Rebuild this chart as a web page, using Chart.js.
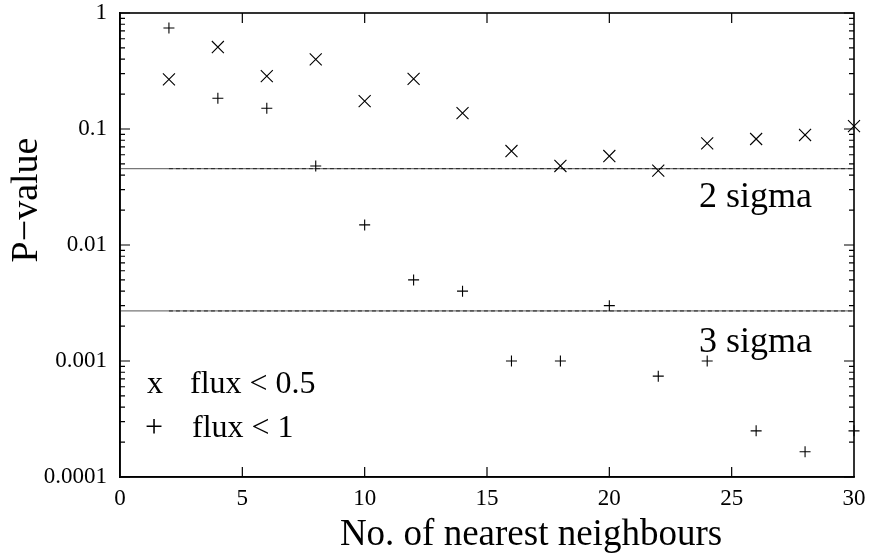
<!DOCTYPE html>
<html>
<head>
<meta charset="utf-8">
<script src="https://cdn.jsdelivr.net/npm/chart.js@4/dist/chart.umd.min.js"></script>
<style>
  html, body { margin: 0; padding: 0; background: #fff; }
  #wrap { width: 871px; height: 554px; }
</style>
</head>
<body>
<div id="wrap"><canvas id="pval"></canvas></div>
<script>
// neighbours counted
const neighbours = [2, 4, 6, 8, 10, 12, 14, 16, 18, 20, 22, 24, 26, 28, 30]
// P-values, flux < 0.5 (x markers)
const pFlux05 = [0.268, 0.509, 0.286, 0.399, 0.174, 0.27, 0.137, 0.0646, 0.048, 0.0585, 0.0437, 0.0753, 0.082, 0.0888, 0.106]
// P-values, flux < 1 (+ markers)
const pFlux1 = [0.743, 0.184, 0.151, 0.048, 0.0149, 0.005, 0.004, 0.001, 0.001, 0.003, 0.00074, 0.001, 0.00025, 0.000165, 0.00025]
// sigma levels
const sigmaNames = ['2 sigma', '3 sigma']
const sigmaLevels = [0.0455, 0.0027]
const yTicks = [0.0001, 0.001, 0.01, 0.1, 1]
const yTickLabels = ['0.0001', '0.001', '0.01', '0.1', '1']
const xTicks = [0, 5, 10, 15, 20, 25, 30]
const xTitle = 'No. of nearest neighbours'
const yTitle = 'P\u2212value'

const serif = '"Liberation Serif", "DejaVu Serif", serif'

const toPts = (ys) => neighbours.map((n, i) => ({ x: n, y: ys[i] }))

const sigmaSets = []
sigmaLevels.forEach(lv => {
  sigmaSets.push({
    type: 'line', data: [{ x: 0, y: lv }, { x: 30, y: lv }],
    borderColor: '#777', borderWidth: 1.2, pointRadius: 0, order: 5
  })
  sigmaSets.push({
    type: 'line', data: [{ x: 2, y: lv }, { x: 30, y: lv }],
    borderColor: '#222', borderWidth: 1, borderDash: [4, 3], pointRadius: 0, order: 4
  })
})

// inward ticks, frame, titles and text labels
const decor = {
  id: 'decor',
  afterDraw(chart) {
    const ctx = chart.ctx
    const ca = chart.chartArea
    const xs = chart.scales.x, ys = chart.scales.y
    ctx.save()
    ctx.strokeStyle = '#000'
    ctx.lineWidth = 1.2
    ctx.beginPath()
    xTicks.forEach(t => {
      const px = xs.getPixelForValue(t)
      if (t === 0 || t === 30) return
      ctx.moveTo(px, ca.bottom); ctx.lineTo(px, ca.bottom - 10)
      ctx.moveTo(px, ca.top); ctx.lineTo(px, ca.top + 10)
    })
    for (let d = 0.0001; d < 1.5; d *= 10) {
      for (let m = 1; m <= 9; m++) {
        const v = d * m
        if (v > 1.0001) break
        const py = ys.getPixelForValue(v)
        const len = m === 1 ? 10 : 5
        ctx.moveTo(ca.left, py); ctx.lineTo(ca.left + len, py)
        ctx.moveTo(ca.right, py); ctx.lineTo(ca.right - len, py)
      }
    }
    ctx.stroke()
    ctx.lineWidth = 1.6
    ctx.strokeRect(ca.left, ca.top, ca.right - ca.left, ca.bottom - ca.top)

    ctx.fillStyle = '#000'
    ctx.textBaseline = 'alphabetic'
    ctx.font = '36px ' + serif
    ctx.textAlign = 'right'
    ctx.fillText(sigmaNames[0], 812, 207)
    ctx.fillText(sigmaNames[1], 812, 352)

    ctx.font = '32px ' + serif
    ctx.textAlign = 'left'
    ctx.fillText('x', 147, 393)
    ctx.fillText('flux < 0.5', 190, 393)
    ctx.fillText('+', 145, 437)
    ctx.fillText('flux < 1', 192, 437)

    // axis titles
    ctx.font = '37px ' + serif
    ctx.textAlign = 'center'
    ctx.fillText(xTitle, 531, 545)
    ctx.translate(37, 200)
    ctx.rotate(-Math.PI / 2)
    ctx.font = '38px ' + serif
    ctx.fillText(yTitle, 0, 0)
    ctx.restore()
  }
}

const chart = new Chart(document.getElementById('pval'), {
  type: 'scatter',
  data: {
    datasets: [
      {
        label: 'flux < 0.5', data: toPts(pFlux05),
        pointStyle: 'crossRot', pointRadius: 8.5, borderColor: '#000', borderWidth: 1.1,
        backgroundColor: '#000', clip: false, order: 1
      },
      {
        label: 'flux < 1', data: toPts(pFlux1),
        pointStyle: 'cross', pointRadius: 5.5, borderColor: '#000', borderWidth: 1.1,
        backgroundColor: '#000', clip: false, order: 2
      },
      ...sigmaSets
    ]
  },
  options: {
    responsive: true,
    maintainAspectRatio: false,
    animation: false,
    layout: { padding: { left: 0, top: 0, right: 17, bottom: 0 } },
    plugins: { legend: { display: false }, tooltip: { enabled: false } },
    scales: {
      x: {
        type: 'linear', min: 0, max: 30,
        afterBuildTicks: s => { s.ticks = xTicks.map(v => ({ value: v })) },
        afterFit: s => { s.height = 77; s.paddingLeft = 0; s.paddingRight = 0 },
        grid: { display: false, drawTicks: false },
        border: { display: true, color: '#000', width: 1.6 },
        ticks: { color: '#000', padding: 8, maxRotation: 0, font: { family: serif, size: 23 } },
        title: { display: false }
      },
      y: {
        type: 'logarithmic', min: 0.0001, max: 1,
        afterBuildTicks: s => { s.ticks = yTicks.map(v => ({ value: v })) },
        afterFit: s => { s.width = 120; s.paddingTop = 13; s.paddingBottom = 0 },
        grid: { display: false, drawTicks: false },
        border: { display: true, color: '#000', width: 1.6 },
        ticks: {
          color: '#000', padding: 13, font: { family: serif, size: 23 },
          callback: (v) => yTickLabels[yTicks.indexOf(v)] ?? ''
        },
        title: { display: false }
      }
    }
  },
  plugins: [decor]
})
</script>
</body>
</html>
